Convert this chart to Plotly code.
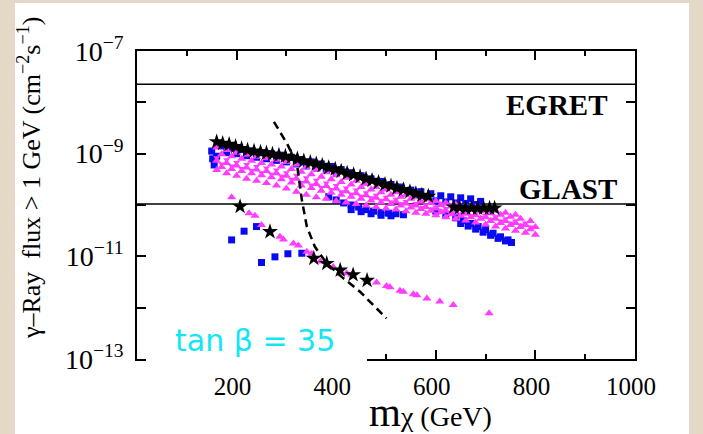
import plotly.graph_objects as go

# ---------------------------------------------------------------
# Integrated gamma-ray flux above 1 GeV versus neutralino mass,
# tan(beta) = 35.  Masses in GeV, fluxes stored as log10(cm^-2 s^-1).
# ---------------------------------------------------------------

# Detector sensitivities
EGRET_LOG = -7.65
GLAST_LOG = -9.98

# Upper band: black stars
STAR_M = [160, 172, 185, 198, 210, 222, 235, 248, 260, 272, 285, 298, 310, 322,
          335, 348, 360, 372, 385, 398, 410, 422, 435, 448, 460, 472, 485, 498,
          510, 522, 535, 548, 560, 572, 585, 636, 648, 660, 672, 684, 696, 708, 718]
STAR_L = [-8.77, -8.80, -8.82, -8.86, -8.90, -8.93, -8.95, -8.97, -8.99, -9.01,
          -9.03, -9.05, -9.07, -9.10, -9.14, -9.17, -9.20, -9.23, -9.27, -9.30,
          -9.34, -9.38, -9.41, -9.45, -9.49, -9.52, -9.56, -9.60, -9.63, -9.67,
          -9.70, -9.74, -9.78, -9.81, -9.83, -10.04, -10.05, -10.06, -10.06,
          -10.06, -10.06, -10.06, -10.06]

# Lower branch: black stars
LOW_STAR_M = [207, 267, 355, 381, 408, 434, 462]
LOW_STAR_L = [-10.03, -10.52, -11.04, -11.14, -11.27, -11.36, -11.47]

# Upper band: magenta up-triangles, five rows from top to bottom
TRI1_M = [160, 180, 200, 220, 240, 260, 280, 300, 320, 340, 360, 380, 400, 420, 440,
          460, 480, 500, 520, 540, 560, 580, 600, 620, 640, 660, 680, 700, 720, 740, 760]
TRI1_L = [-8.88, -8.93, -8.98, -9.02, -9.06, -9.09, -9.12, -9.16, -9.21, -9.26,
          -9.31, -9.36, -9.42, -9.47, -9.53, -9.59, -9.65, -9.70, -9.75, -9.80,
          -9.85, -9.89, -9.92, -9.96, -9.99, -10.02, -10.05, -10.08, -10.11, -10.15, -10.19]
TRI2_M = [170, 190, 210, 230, 250, 270, 290, 310, 330, 350, 370, 390, 410, 430, 450, 470,
          490, 510, 530, 550, 570, 590, 610, 630, 650, 670, 690, 710, 730, 750, 770, 790]
TRI2_L = [-9.01, -9.05, -9.10, -9.14, -9.18, -9.21, -9.25, -9.30, -9.35, -9.40,
          -9.45, -9.50, -9.55, -9.60, -9.65, -9.70, -9.75, -9.80, -9.84, -9.88,
          -9.93, -9.96, -10.00, -10.03, -10.06, -10.09, -10.12, -10.16, -10.19,
          -10.23, -10.27, -10.31]
TRI3_M = [160, 180, 200, 220, 240, 260, 280, 300, 320, 340, 360, 380, 400, 420, 440, 460,
          480, 500, 520, 540, 560, 580, 600, 620, 640, 660, 680, 700, 720, 740, 760, 780, 800]
TRI3_L = [-9.14, -9.18, -9.23, -9.27, -9.31, -9.34, -9.38, -9.43, -9.49, -9.54,
          -9.59, -9.63, -9.68, -9.73, -9.77, -9.81, -9.86, -9.89, -9.93, -9.97,
          -10.01, -10.04, -10.07, -10.11, -10.14, -10.17, -10.20, -10.24, -10.27,
          -10.31, -10.35, -10.39, -10.43]
TRI4_M = [170, 190, 210, 230, 250, 270, 290, 310, 330, 350, 370, 390, 410, 430, 450, 470,
          490, 510, 530, 550, 570, 590, 610, 630, 650, 670, 690, 710, 730, 750, 770, 790]
TRI4_L = [-9.26, -9.30, -9.34, -9.38, -9.42, -9.46, -9.50, -9.56, -9.62, -9.67,
          -9.72, -9.76, -9.80, -9.84, -9.88, -9.91, -9.95, -9.98, -10.01, -10.05,
          -10.08, -10.11, -10.14, -10.18, -10.21, -10.24, -10.27, -10.31, -10.35,
          -10.39, -10.43, -10.47]
TRI5_M = [160, 180, 200, 220, 240, 260, 280, 300, 320, 340, 360, 380, 400, 420, 440, 460,
          480, 500, 520, 540, 560, 580, 600, 620, 640, 660, 680, 700, 720, 740, 760, 780, 800]
TRI5_L = [-9.32, -9.38, -9.43, -9.49, -9.53, -9.57, -9.62, -9.68, -9.74, -9.80,
          -9.85, -9.88, -9.92, -9.95, -9.98, -10.01, -10.04, -10.07, -10.09, -10.12,
          -10.15, -10.17, -10.20, -10.24, -10.27, -10.30, -10.34, -10.38, -10.42,
          -10.46, -10.50, -10.54, -10.58]

# Upper band: magenta down-triangles between the rows
DTA_M = [160, 180, 200, 220, 240, 260, 280, 300, 320, 340, 360, 380, 400, 420, 440, 460,
         480, 500, 520, 540, 560, 580, 600, 620, 640, 660, 680, 700, 720, 740, 760, 780]
DTA_L = [-9.08, -9.12, -9.17, -9.21, -9.25, -9.28, -9.32, -9.37, -9.42, -9.47,
         -9.52, -9.57, -9.62, -9.67, -9.71, -9.76, -9.81, -9.85, -9.89, -9.93,
         -9.97, -10.00, -10.04, -10.07, -10.10, -10.13, -10.16, -10.20, -10.23,
         -10.27, -10.31, -10.35]
DTB_M = [170, 190, 210, 230, 250, 270, 290, 310, 330, 350, 370, 390, 410, 430, 450, 470,
         490, 510, 530, 550, 570, 590, 610, 630, 650, 670, 690, 710, 730, 750, 770, 790]
DTB_L = [-9.20, -9.24, -9.29, -9.33, -9.37, -9.40, -9.44, -9.50, -9.56, -9.61,
         -9.66, -9.70, -9.74, -9.79, -9.83, -9.86, -9.91, -9.94, -9.97, -10.01,
         -10.05, -10.08, -10.11, -10.15, -10.18, -10.21, -10.24, -10.28, -10.31,
         -10.35, -10.39, -10.43]

# Lower branch: magenta up-triangles
LOW_TRI_M = [190, 207, 225, 237, 250, 287, 294, 314, 324, 341, 351, 368, 394, 421, 431,
             461, 481, 501, 508, 528, 535, 555, 562, 582, 608, 635, 707]
LOW_TRI_L = [-9.85, -10.00, -10.16, -10.21, -10.39, -10.62, -10.67, -10.75, -10.79,
             -10.91, -10.95, -11.10, -11.21, -11.33, -11.36, -11.46, -11.51, -11.58,
             -11.60, -11.67, -11.69, -11.74, -11.76, -11.82, -11.88, -11.95, -12.11]

# Upper band: blue squares
SQ1_M = [150, 170, 190, 210, 230, 250, 270, 290, 310, 330, 350, 370, 390, 410, 430,
         450, 470, 490, 510, 530, 550, 570, 590, 610, 630, 650, 670, 690]
SQ1_L = [-8.95, -8.85, -8.88, -8.92, -8.95, -8.98, -9.00, -9.03, -9.07, -9.12,
         -9.16, -9.20, -9.25, -9.31, -9.37, -9.43, -9.49, -9.54, -9.60, -9.65,
         -9.71, -9.74, -9.78, -9.82, -9.84, -9.86, -9.88, -9.93]
SQ2_M = [152, 155, 160, 180, 200, 220, 240, 260, 280, 300, 320, 340, 360, 380, 400,
         600, 620, 640, 660, 680]
SQ2_L = [-9.10, -9.22, -9.05, -8.98, -9.00, -9.04, -9.07, -9.10, -9.13, -9.16,
         -9.20, -9.24, -9.28, -9.32, -9.37, -9.92, -9.94, -9.96, -9.97, -9.99]
SQ3_M = [385, 400, 415, 430, 445, 460, 475, 490, 505, 520, 535, 430, 450, 470, 490, 510]
SQ3_L = [-9.84, -9.90, -9.96, -10.00, -10.04, -10.09, -10.12, -10.15, -10.16, -10.17,
         -10.19, -10.09, -10.13, -10.17, -10.20, -10.21]
SQ4_M = [600, 620, 640, 655, 670, 685, 700, 715, 730, 745,
         650, 665, 680, 695, 710, 725, 740, 752]
SQ4_L = [-10.12, -10.18, -10.25, -10.30, -10.36, -10.42, -10.48, -10.55, -10.62, -10.68,
         -10.36, -10.41, -10.47, -10.53, -10.59, -10.65, -10.70, -10.73]

# Lower branch: blue squares
LOW_SQ_M = [190, 215, 240, 250, 277, 303, 331]
LOW_SQ_L = [-10.68, -10.51, -10.42, -11.12, -11.01, -10.95, -10.94]

# Dashed curve
DASH_M = [275, 301, 321, 327, 331, 341, 357, 381, 411, 448, 501]
DASH_L = [-8.38, -8.80, -9.19, -9.64, -9.90, -10.42, -10.81, -11.14, -11.40, -11.69, -12.21]

X_TICKS = [200, 400, 600, 800, 1000]
X_MINOR = [100, 300, 500, 700, 900]
Y_EXPONENTS = [-13, -12, -11, -10, -9, -8, -7]
Y_LABELLED = [-13, -11, -9, -7]

BLUE = "#0a0af0"
MAGENTA = "#ff3cff"
SERIF = "Liberation Serif, Times New Roman, serif"


def flux(logs):
    return [10.0 ** v for v in logs]


fig = go.Figure()

# detector sensitivity lines
for level in (EGRET_LOG, GLAST_LOG):
    fig.add_trace(go.Scatter(x=[0, 1000], y=flux([level, level]), mode="lines",
                             line=dict(color="black", width=1.5), hoverinfo="skip"))


def squares(m, l):
    fig.add_trace(go.Scatter(x=m, y=flux(l), mode="markers",
                             marker=dict(symbol="square", size=7, color=BLUE,
                                         line=dict(width=0))))


def triangles(m, l, symbol="triangle-up", size=8):
    fig.add_trace(go.Scatter(x=m, y=flux(l), mode="markers",
                             marker=dict(symbol=symbol, size=size, color=MAGENTA,
                                         line=dict(width=0))))


def stars(m, l):
    fig.add_trace(go.Scatter(x=m, y=flux(l), mode="markers",
                             marker=dict(symbol="star", size=12, color="black",
                                         line=dict(width=0))))


for m, l in ((SQ1_M, SQ1_L), (SQ2_M, SQ2_L), (SQ3_M, SQ3_L), (SQ4_M, SQ4_L),
             (LOW_SQ_M, LOW_SQ_L)):
    squares(m, l)

for m, l in ((TRI5_M, TRI5_L), (TRI4_M, TRI4_L), (TRI3_M, TRI3_L),
             (TRI2_M, TRI2_L), (TRI1_M, TRI1_L), (LOW_TRI_M, LOW_TRI_L)):
    triangles(m, l)
triangles(DTA_M, DTA_L, "triangle-down", 6)
triangles(DTB_M, DTB_L, "triangle-down", 6)

fig.add_trace(go.Scatter(x=DASH_M, y=flux(DASH_L), mode="lines",
                         line=dict(color="black", width=2.5, dash="8px,5px")))

stars(STAR_M, STAR_L)
stars(LOW_STAR_M, LOW_STAR_L)

# layout geometry (pixels)
W, H = 703, 434
L_M, R_M, T_M, B_M = 137, 68, 51, 75
PW, PH = W - L_M - R_M, H - T_M - B_M


def px_x(px):
    return (px - L_M) / PW


def px_y(py):
    return (H - B_M - py) / PH


def label(text, cx, cy, font, angle=0):
    return dict(text=text, xref="paper", yref="paper", x=px_x(cx), y=px_y(cy),
                xanchor="center", yanchor="middle", textangle=angle,
                showarrow=False, font=font)


axis_common = dict(showline=True, linecolor="black", linewidth=1.5, mirror="allticks",
                   ticks="inside", ticklen=9, tickwidth=1.5, tickcolor="black",
                   showgrid=False, zeroline=False)

fig.update_layout(
    width=W, height=H, autosize=False,
    margin=dict(l=L_M, r=R_M, t=T_M, b=B_M, pad=0),
    paper_bgcolor="#e4d9c6", plot_bgcolor="white",
    showlegend=False,
    xaxis=dict(range=[0, 1000], tickvals=X_TICKS, ticktext=[str(v) for v in X_TICKS],
               tickfont=dict(family=SERIF, size=25, color="black"),
               ticklabelstandoff=4, ticklabelshift=-4,
               minor=dict(tickvals=X_MINOR, ticks="inside", ticklen=5, tickwidth=1.5,
                          tickcolor="black", showgrid=False),
               **axis_common),
    yaxis=dict(type="log", range=[-13, -7],
               tickvals=[10.0 ** e for e in Y_EXPONENTS],
               ticktext=[("10<sup>\u2212%d</sup>" % -e) if e in Y_LABELLED else ""
                         for e in Y_EXPONENTS],
               tickfont=dict(family=SERIF, size=28, color="black"),
               ticklabelstandoff=6,
               **axis_common),
    shapes=[
        # white slide area over the textured border
        dict(type="rect", xref="paper", yref="paper", layer="below",
             x0=px_x(15), x1=px_x(689), y0=px_y(440), y1=px_y(3),
             fillcolor="white", line=dict(width=0)),
        # white label box laid over the lower-left of the frame
        dict(type="rect", xref="paper", yref="paper", layer="above",
             x0=px_x(146), x1=px_x(367), y0=px_y(364), y1=px_y(318),
             fillcolor="white", line=dict(width=0)),
    ],
    annotations=[
        label("<b>EGRET</b>", 557, 105, dict(family=SERIF, size=29, color="black")),
        label("<b>GLAST</b>", 568, 189, dict(family=SERIF, size=29, color="black")),
        label("tan \u03b2 = 35", 255, 340,
              dict(family="DejaVu Sans, Verdana, sans-serif", size=30, color="#12e6f5")),
        label("\u03b3\u2013Ray  flux > 1 GeV (cm<sup>\u22122</sup>s<sup>\u22121</sup>)",
              29, 178, dict(family=SERIF, size=26, color="black"), angle=-90),
        label("<span style='font-size:41px'>m</span>\u03c7 (GeV)", 430, 412,
              dict(family=SERIF, size=28, color="black")),
    ],
)

fig.write_html("out.html")
